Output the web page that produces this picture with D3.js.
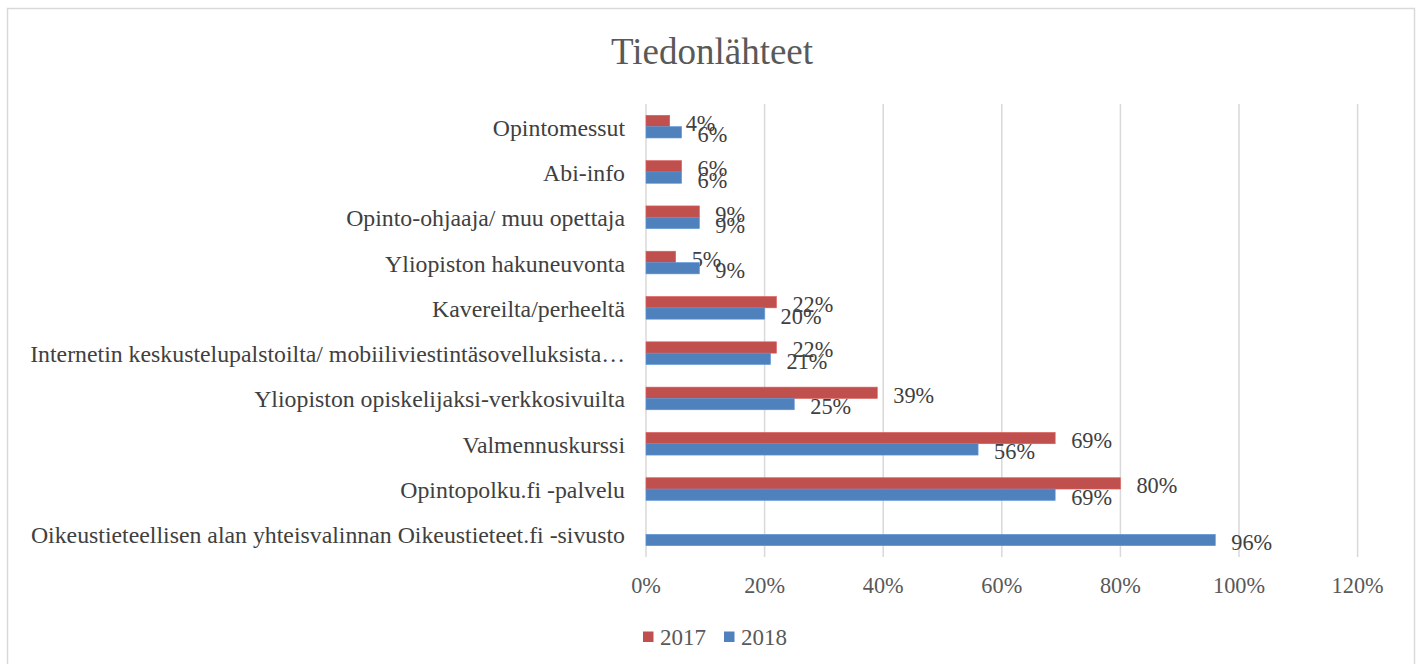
<!DOCTYPE html>
<html>
<head>
<meta charset="utf-8">
<script src="https://cdn.jsdelivr.net/npm/d3@7"></script>
<style>
  body { margin: 0; background: #fff; }
  text { font-family: "Liberation Serif", "Times New Roman", serif; }
</style>
</head>
<body>
<div id="chart"></div>
<script>
// data
var categories = [
  "Opintomessut",
  "Abi-info",
  "Opinto-ohjaaja/ muu opettaja",
  "Yliopiston hakuneuvonta",
  "Kavereilta/perheeltä",
  "Internetin keskustelupalstoilta/ mobiiliviestintäsovelluksista…",
  "Yliopiston opiskelijaksi-verkkosivuilta",
  "Valmennuskurssi",
  "Opintopolku.fi -palvelu",
  "Oikeustieteellisen alan yhteisvalinnan Oikeustieteet.fi -sivusto"
];
var series = ["2017", "2018"];
var values2017 = [4, 6, 9, 5, 22, 22, 39, 69, 80, null];
var values2018 = [6, 6, 9, 9, 20, 21, 25, 56, 69, 96];
var xTicks = [0, 20, 40, 60, 80, 100, 120];
var colors = { "2017": "#c0504d", "2018": "#4f81bd" };

var W = 1419, H = 664;
var plot = { left: 646, right: 1357.6, top: 104, bottom: 557 };

var svg = d3.select("#chart").append("svg")
  .attr("width", W)
  .attr("height", H);

// outer chart border
svg.append("rect")
  .attr("x", 7.5).attr("y", 8.5)
  .attr("width", 1407).attr("height", 670)
  .attr("fill", "#fff")
  .attr("stroke", "#d9d9d9")
  .attr("stroke-width", 1.5);

// title
svg.append("text")
  .attr("x", 712).attr("y", 64)
  .attr("text-anchor", "middle")
  .style("font-size", "37px")
  .style("fill", "#595959")
  .text("Tiedonlähteet");

var x = d3.scaleLinear().domain([0, 120]).range([plot.left, plot.right]);

var y0 = d3.scaleBand()
  .domain(categories)
  .range([plot.top, plot.bottom])
  .paddingInner(0.5)
  .paddingOuter(0.25);

var y1 = d3.scaleBand()
  .domain(series)
  .range([0, y0.bandwidth()]);

// gridlines
svg.append("g").selectAll("line")
  .data(xTicks)
  .enter().append("line")
  .attr("x1", function(d) { return x(d); })
  .attr("x2", function(d) { return x(d); })
  .attr("y1", plot.top)
  .attr("y2", plot.bottom)
  .attr("stroke", "#d9d9d9")
  .attr("stroke-width", 1.5);

// x tick labels
svg.append("g").selectAll("text")
  .data(xTicks)
  .enter().append("text")
  .attr("x", function(d) { return x(d); })
  .attr("y", 593)
  .attr("text-anchor", "middle")
  .style("font-size", "22.3px")
  .style("fill", "#595959")
  .text(function(d) { return d + "%"; });

// category labels
svg.append("g").selectAll("text")
  .data(categories)
  .enter().append("text")
  .attr("x", 625)
  .attr("y", function(d) { return y0(d) + y0.bandwidth() / 2 + 1; })
  .attr("dominant-baseline", "central")
  .attr("text-anchor", "end")
  .style("font-size", "23.8px")
  .style("fill", "#404040")
  .text(function(d) { return d; });

// bars
var rows = categories.map(function(c, i) {
  return { cat: c, vals: [
    { s: "2017", v: values2017[i] },
    { s: "2018", v: values2018[i] }
  ] };
});

var group = svg.append("g").selectAll("g")
  .data(rows)
  .enter().append("g")
  .attr("transform", function(d) { return "translate(0," + y0(d.cat) + ")"; });

var cells = group.selectAll("g")
  .data(function(d) { return d.vals.filter(function(v) { return v.v != null; }); })
  .enter().append("g");

cells.append("rect")
  .attr("x", x(0))
  .attr("y", function(d) { return y1(d.s); })
  .attr("width", function(d) { return x(d.v) - x(0); })
  .attr("height", y1.bandwidth())
  .attr("fill", function(d) { return colors[d.s]; })
  .attr("stroke", function(d) { return d3.color(colors[d.s]).brighter(0.4); })
  .attr("stroke-width", 0.6);

// data labels (they overlap in the original too)
cells.append("text")
  .attr("x", function(d) { return x(d.v) + 16; })
  .attr("y", function(d) { return y1(d.s) + y1.bandwidth() / 2 + 2.5; })
  .attr("dominant-baseline", "central")
  .style("font-size", "22.3px")
  .style("fill", "#404040")
  .text(function(d) { return d.v + "%"; });

// legend
var legend = svg.append("g").selectAll("g")
  .data(series)
  .enter().append("g")
  .attr("transform", function(d, i) { return "translate(" + (643 + i * 81) + ",631.5)"; });

legend.append("rect")
  .attr("width", 10.5).attr("height", 10.5)
  .attr("fill", function(d) { return colors[d]; });

legend.append("text")
  .attr("x", 17).attr("y", 5.5)
  .attr("dominant-baseline", "central")
  .style("font-size", "23px")
  .style("fill", "#595959")
  .text(function(d) { return d; });
</script>
</body>
</html>
